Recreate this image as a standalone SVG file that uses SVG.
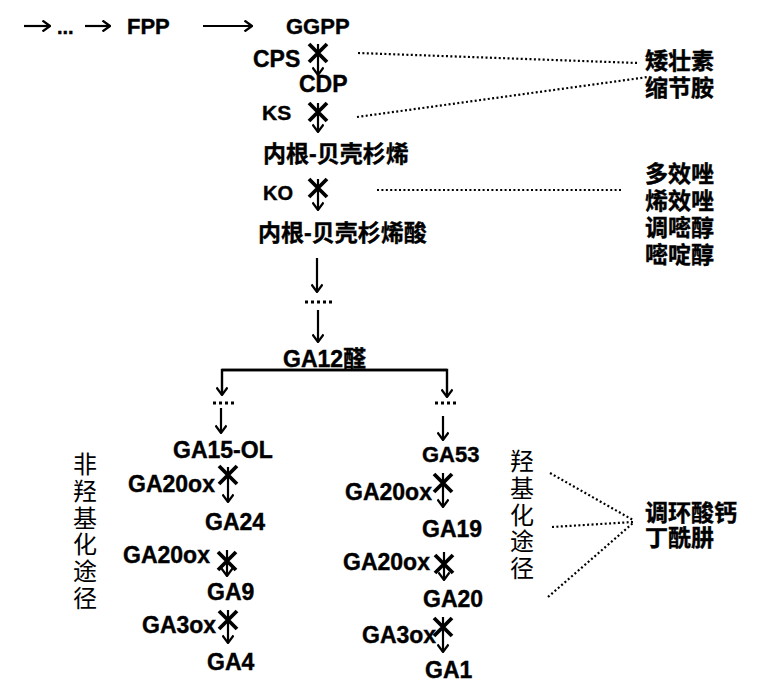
<svg xmlns="http://www.w3.org/2000/svg" xmlns:xlink="http://www.w3.org/1999/xlink" width="761" height="693" viewBox="0 0 761 693">
<style>
text{fill:#000}
.b{font-family:"Liberation Sans","Noto Sans CJK SC",sans-serif;font-weight:bold;stroke:#000;stroke-width:0.4}
.l21{font-size:21px}
.l22{font-size:22px}
.l23{font-size:23px}
.c23{font-family:"Liberation Sans","Noto Sans CJK SC",sans-serif;font-weight:bold;font-size:23px;stroke:#000;stroke-width:0.4}
.v{font-family:"Noto Sans CJK SC",sans-serif;font-weight:400;font-size:24px;writing-mode:vertical-rl;letter-spacing:2.7px}
.ar{fill:none;stroke:#000;stroke-width:2.2;marker-end:url(#ah)}
.br{fill:none;stroke:#000;stroke-width:2.4;marker-end:url(#ah)}
.dot{fill:none;stroke:#000;stroke-width:2.2;stroke-dasharray:2 2.4}
.dd{fill:none;stroke:#000;stroke-width:3;stroke-dasharray:3 3}
.x{fill:none;stroke:#000;stroke-width:3.8}
</style>
<defs>
<marker id="ah" viewBox="0 0 12 12" refX="11" refY="6" markerWidth="12" markerHeight="12" markerUnits="userSpaceOnUse" orient="auto">
<path d="M3.5,0.5 L11,6 L3.5,11.5" fill="none" stroke="#000" stroke-width="2.2"/>
</marker>
<path id="xm" class="x" d="M-9,-9 L9,9 M9,-9 L-9,9"/>
</defs>
<rect width="761" height="693" fill="#fff"/>

<g id="connectors">
<path class="ar" d="M24,26 H50"/>
<path class="ar" d="M85,26 H110"/>
<path class="ar" d="M203,26 H252"/>
<path class="ar" d="M318,44 V75"/>
<path class="ar" d="M318,103 V132"/>
<path class="ar" d="M318,179 V210"/>
<path class="ar" d="M317,258 V292"/>
<path class="dd" d="M305,302 H334"/>
<path class="ar" d="M318,310 V342"/>
<path class="br" d="M447,370 H222 V395"/>
<path class="br" d="M222,370 H447 V397"/>
<path class="dd" d="M213,403 H237"/>
<path class="dd" d="M435,403 H459"/>
<path class="ar" d="M221,408 V433"/>
<path class="ar" d="M443,416 V440"/>
<path class="ar" d="M228,467 V502"/>
<path class="ar" d="M227,550 V576"/>
<path class="ar" d="M228,610 V643"/>
<path class="ar" d="M443,473 V507"/>
<path class="ar" d="M444,552 V580"/>
<path class="ar" d="M443,617 V652"/>
<use xlink:href="#xm" href="#xm" transform="translate(318,53)"/>
<use xlink:href="#xm" href="#xm" transform="translate(318,112)"/>
<use xlink:href="#xm" href="#xm" transform="translate(318,188)"/>
<use xlink:href="#xm" href="#xm" transform="translate(228,475)"/>
<use xlink:href="#xm" href="#xm" transform="translate(227,561)"/>
<use xlink:href="#xm" href="#xm" transform="translate(228,620)"/>
<use xlink:href="#xm" href="#xm" transform="translate(443,483)"/>
<use xlink:href="#xm" href="#xm" transform="translate(444,564)"/>
<use xlink:href="#xm" href="#xm" transform="translate(443,627)"/>
<path class="dot" d="M358,53 L638,63"/>
<path class="dot" d="M357,117 L648,77"/>
<path class="dot" d="M377,190 H623"/>
<path class="dot" d="M550,473 L633,520"/>
<path class="dot" d="M552,527 L633,522"/>
<path class="dot" d="M548,597 L633,523"/>
</g>

<g id="n-start"><text class="b" x="57" y="34" font-size="20">...</text></g>
<g id="n-FPP"><text class="b l22" x="127" y="34">FPP</text></g>
<g id="n-GGPP"><text class="b l22" x="286" y="34">GGPP</text></g>
<g id="n-CPS"><text class="b l23" x="253" y="67">CPS</text></g>
<g id="n-CDP"><text class="b l23" x="299" y="92">CDP</text></g>
<g id="n-KS"><text class="b l21" x="262" y="120">KS</text></g>
<g id="n-kaurene"><text class="c23" x="263" y="162">内根-贝壳杉烯</text></g>
<g id="n-KO"><text class="b" font-size="20" x="263" y="200">KO</text></g>
<g id="n-kaurenoic"><text class="c23" x="258" y="241">内根-贝壳杉烯酸</text></g>
<g id="n-GA12"><text class="b l23" x="283" y="367">GA12醛</text></g>

<g id="n-GA15OL"><text class="b l23" x="173" y="458">GA15-OL</text></g>
<g id="n-GA20ox-l1"><text class="b l23" x="128" y="492">GA20ox</text></g>
<g id="n-GA24"><text class="b l23" x="205" y="530">GA24</text></g>
<g id="n-GA20ox-l2"><text class="b l23" x="123" y="563">GA20ox</text></g>
<g id="n-GA9"><text class="b l23" x="207" y="600">GA9</text></g>
<g id="n-GA3ox-l"><text class="b l23" x="142" y="633">GA3ox</text></g>
<g id="n-GA4"><text class="b l23" x="207" y="670">GA4</text></g>

<g id="n-GA53"><text class="b l22" x="422" y="462">GA53</text></g>
<g id="n-GA20ox-r1"><text class="b l23" x="345" y="500">GA20ox</text></g>
<g id="n-GA19"><text class="b l23" x="422" y="537">GA19</text></g>
<g id="n-GA20ox-r2"><text class="b l23" x="343" y="570">GA20ox</text></g>
<g id="n-GA20"><text class="b l23" x="423" y="607">GA20</text></g>
<g id="n-GA3ox-r"><text class="b l23" x="362" y="643">GA3ox</text></g>
<g id="n-GA1"><text class="b l23" x="425" y="678">GA1</text></g>

<g id="n-nonhydroxyl"><text class="v" x="85" y="452">非羟基化途径</text></g>
<g id="n-hydroxyl"><text class="v" x="522" y="449">羟基化途径</text></g>

<g id="n-inhib1"><text class="c23"><tspan x="645" y="69">矮壮素</tspan><tspan x="645" y="96">缩节胺</tspan></text></g>
<g id="n-inhib2"><text class="c23"><tspan x="645" y="182">多效唑</tspan><tspan x="645" y="209">烯效唑</tspan><tspan x="645" y="236">调嘧醇</tspan><tspan x="645" y="263">嘧啶醇</tspan></text></g>
<g id="n-inhib3"><text class="c23"><tspan x="645" y="521">调环酸钙</tspan><tspan x="645" y="546">丁酰肼</tspan></text></g>
</svg>
